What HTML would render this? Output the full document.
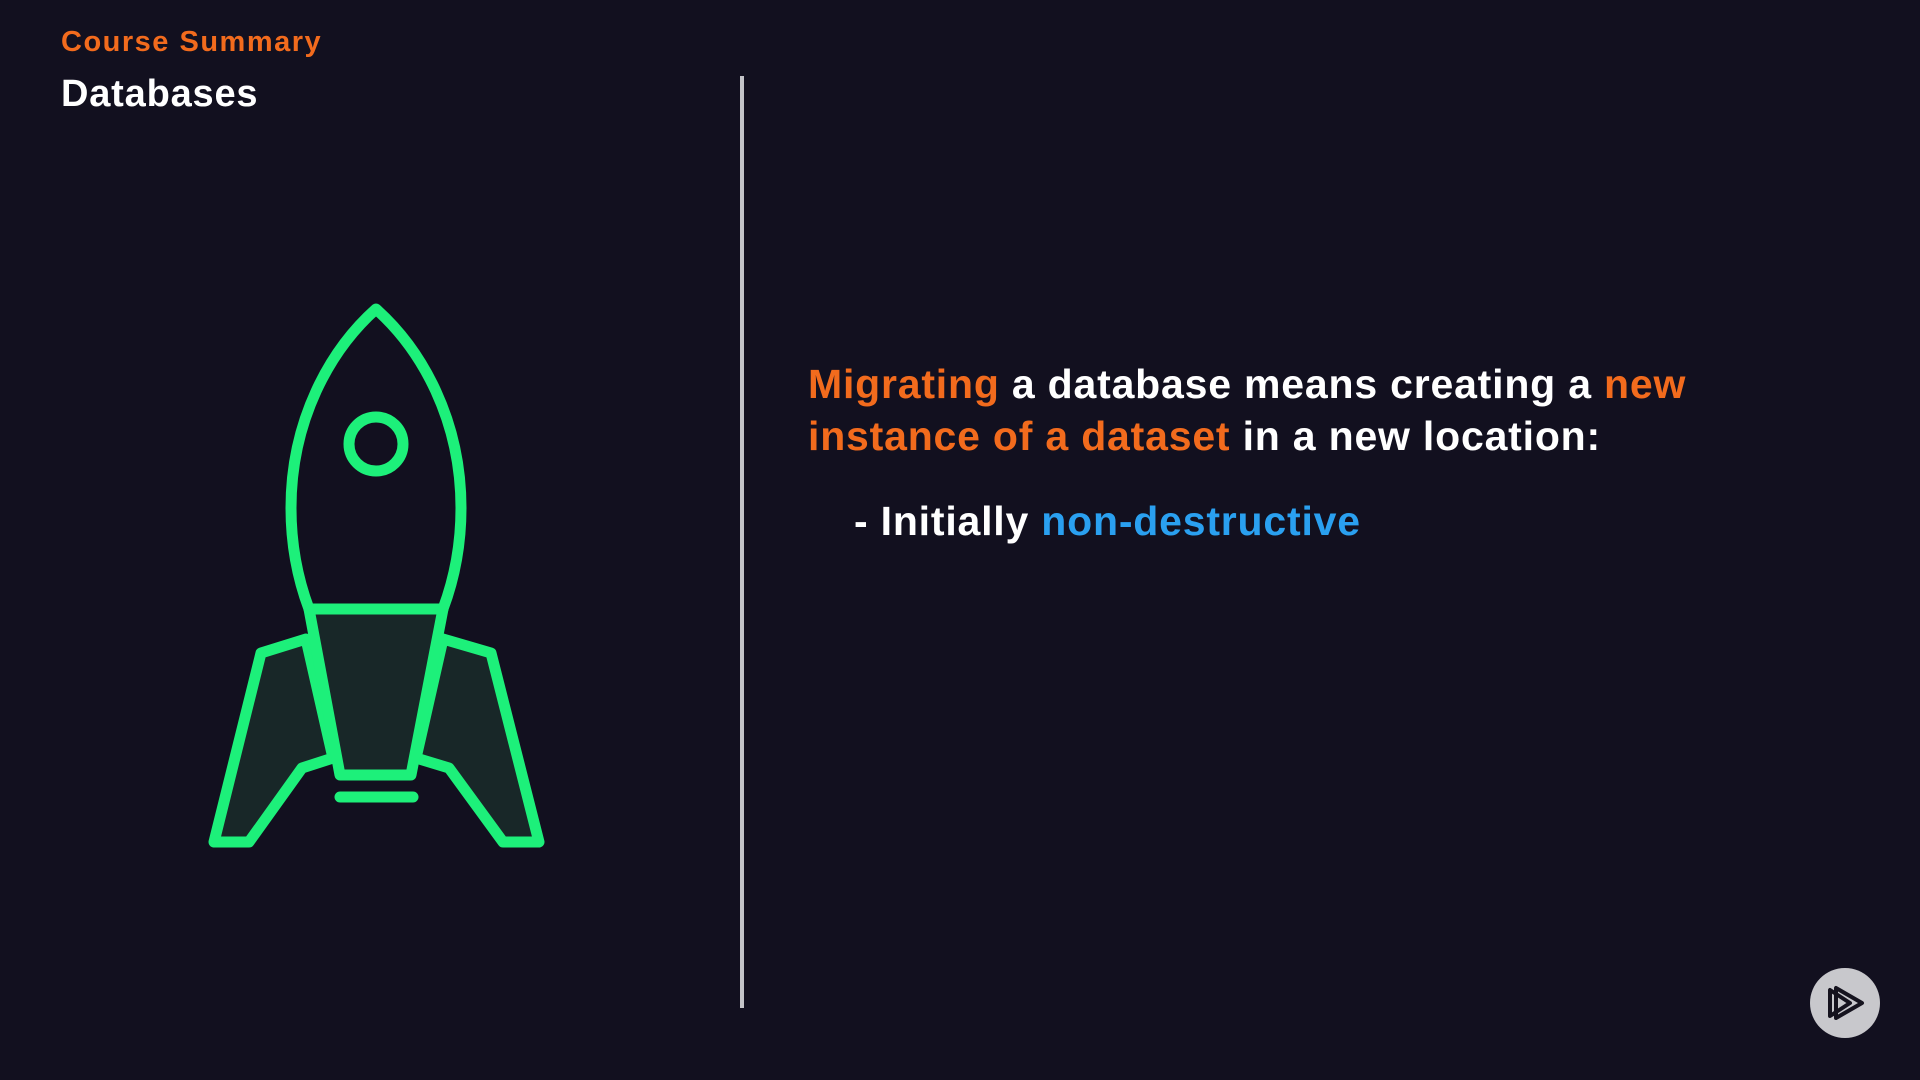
<!DOCTYPE html>
<html><head><meta charset="utf-8"><style>
body{margin:0;width:1920px;height:1080px;background:#12101f;overflow:hidden;position:relative;font-family:"Liberation Sans",sans-serif;font-weight:bold}
.t{position:absolute;white-space:nowrap}
.o{color:#f26b1d}.b{color:#2aa0f0}
</style></head><body>
<div class="t o" style="left:61px;top:26px;font-size:29px;letter-spacing:1.5px">Course Summary</div>
<div class="t" style="left:61px;top:73px;font-size:38px;color:#fff;letter-spacing:0.8px">Databases</div>
<div style="position:absolute;left:740px;top:76px;width:4px;height:932px;background:#c4c4c8"></div>
<div class="t" style="left:808px;top:358px;font-size:41px;line-height:52px;color:#fff;letter-spacing:0.8px">
<span class="o">Migrating</span> a database means creating a <span class="o">new</span><br><span class="o">instance of a dataset</span> in a new location:</div>
<div class="t" style="left:854px;top:498px;font-size:41px;color:#fff;letter-spacing:0.8px">- Initially <span class="b">non-destructive</span></div>
<svg style="position:absolute;left:0;top:0" width="1920" height="1080">
<g stroke="#1df07a" stroke-width="11" stroke-linejoin="round" stroke-linecap="round" fill="#182728">
<path d="M306,639 L261,653 L214,842 L249,842 L302,768 L333,758 Z"/>
<path d="M443,639 L491,653 L539,842 L503,842 L449,768 L416,758 Z"/>
<path d="M309,609 L443,609 L411,775 L340,775 Z"/>
<path d="M376,309 C330,350 291,420 291,508 C291,550 300,585 309,609 L443,609 C452,585 461,550 461,508 C461,420 422,350 376,309 Z" fill="#12101f"/>
<circle cx="376" cy="444" r="27" fill="none"/>
<line x1="340" y1="797" x2="413" y2="797"/>
</g>
<circle cx="1845" cy="1003" r="35" fill="#c8c8cc"/>
<g fill="none" stroke="#15131e" stroke-width="4" stroke-linejoin="round">
<path d="M1830,990 L1830,1016 L1850,1003 Z"/>
<path d="M1836,988 L1836,1018 L1862,1003 Z"/>
</g>
</svg>
</body></html>
